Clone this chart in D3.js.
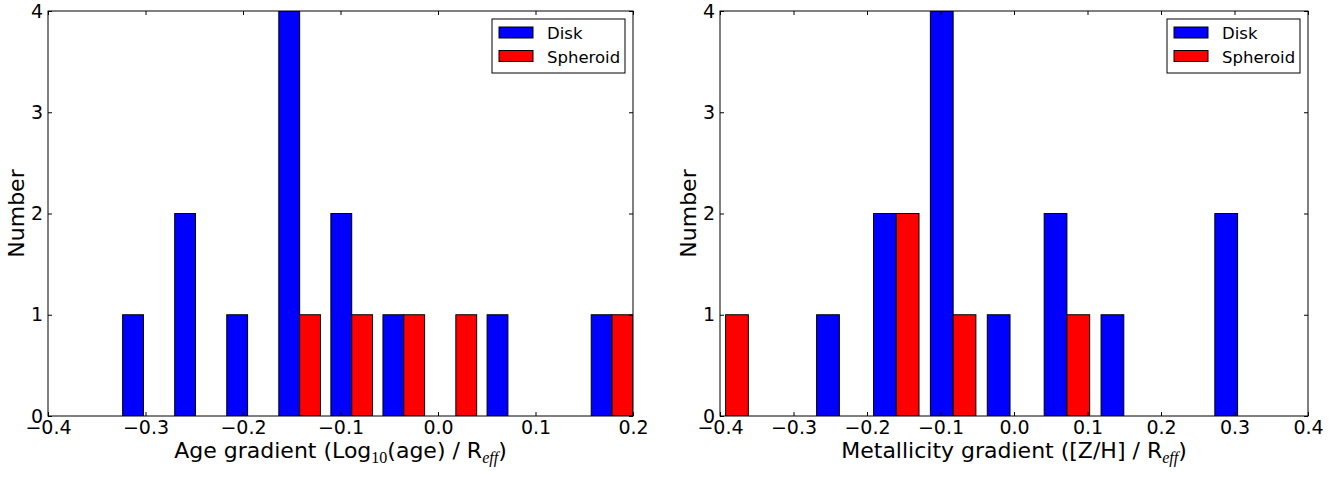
<!DOCTYPE html>
<html>
<head>
<meta charset="utf-8">
<script src="https://cdn.jsdelivr.net/npm/d3@7"></script>
<style>
  body { margin: 0; background: #fff; }
  text { font-family: 'DejaVu Sans', sans-serif; fill: #000; }
</style>
</head>
<body>
<div id="chart"></div>
<script>
// histogram bin edges (10 bins each) and counts per bin
const ageEdges = [-0.3288, -0.2754, -0.2220, -0.1686, -0.1152, -0.0618, -0.0084, 0.0450, 0.0984, 0.1518, 0.2052]
const ageDisk = [1, 2, 1, 4, 2, 1, 0, 1, 0, 1]
const ageSpheroid = [0, 0, 0, 1, 1, 1, 1, 0, 0, 1]

const metEdges = [-0.4311, -0.3537, -0.2763, -0.1989, -0.1215, -0.0441, 0.0333, 0.1107, 0.1881, 0.2655, 0.3429]
const metDisk = [0, 0, 1, 2, 4, 1, 2, 1, 0, 2]
const metSpheroid = [1, 0, 0, 2, 1, 0, 1, 0, 0, 0]

const ageTicks = [-0.4, -0.3, -0.2, -0.1, 0.0, 0.1, 0.2]
const metTicks = [-0.4, -0.3, -0.2, -0.1, 0.0, 0.1, 0.2, 0.3, 0.4]
const yTicks = [0, 1, 2, 3, 4]

const seriesNames = ['Disk', 'Spheroid']
const seriesColors = ['#0000ff', '#ff0000']

const width = 1341
const height = 477
const plotTop = 11
const plotBottom = 416

const svg = d3
  .select('#chart')
  .append('svg')
  .attr('width', width)
  .attr('height', height)

const panels = [
  {
    id: 'age',
    left: 48,
    right: 633,
    domain: [-0.4, 0.2],
    edges: ageEdges,
    series: [ageDisk, ageSpheroid],
    ticks: ageTicks,
    label: [['Age gradient (Log', 'n'], ['10', 'sub'], ['(age) / R', 'n'], ['eff', 'subi'], [')', 'n']]
  },
  {
    id: 'met',
    left: 720,
    right: 1308,
    domain: [-0.4, 0.4],
    edges: metEdges,
    series: [metDisk, metSpheroid],
    ticks: metTicks,
    label: [['Metallicity gradient ([Z/H] / R', 'n'], ['eff', 'subi'], [')', 'n']]
  }
]

panels.forEach(drawPanel)

function drawPanel(p) {
  const w = p.right - p.left
  const h = plotBottom - plotTop
  const g = svg.append('g').attr('transform', 'translate(' + p.left + ',' + plotTop + ')')

  const x = d3.scaleLinear().domain(p.domain).range([0, w])
  const y = d3.scaleLinear().domain([0, 4]).range([h, 0])

  g.append('clipPath')
    .attr('id', 'clip-' + p.id)
    .append('rect')
    .attr('width', w)
    .attr('height', h)

  // side by side bars: 80% of each bin, split between the two series
  const bars = []
  p.series.forEach((counts, s) => {
    counts.forEach((c, i) => {
      if (c === 0) return
      const lo = p.edges[i]
      const bw = p.edges[i + 1] - lo
      const x0 = lo + bw * 0.1 + s * bw * 0.4
      bars.push({ x0: x0, x1: x0 + bw * 0.4, count: c, s: s })
    })
  })

  g.append('g')
    .attr('clip-path', 'url(#clip-' + p.id + ')')
    .selectAll('rect')
    .data(bars)
    .enter()
    .append('rect')
    .attr('x', d => x(d.x0))
    .attr('width', d => x(d.x1) - x(d.x0))
    .attr('y', d => y(d.count))
    .attr('height', d => y(0) - y(d.count))
    .attr('fill', d => seriesColors[d.s])
    .attr('stroke', '#000')
    .attr('stroke-width', 1)

  const fmt = d3.format('.1f')

  const xAxis = d3.axisBottom(x).tickValues(p.ticks).tickSize(-4).tickPadding(5).tickFormat(fmt)
  const xTop = d3.axisTop(x).tickValues(p.ticks).tickSize(-4).tickFormat('')
  const yAxis = d3.axisLeft(y).tickValues(yTicks).tickSize(-4).tickPadding(5).tickFormat(d3.format('d'))
  const yRight = d3.axisRight(y).tickValues(yTicks).tickSize(-4).tickFormat('')

  g.append('g').attr('class', 'axis').attr('transform', 'translate(0,' + h + ')').call(xAxis)
  g.append('g').attr('class', 'axis').call(xTop)
  g.append('g').attr('class', 'axis').call(yAxis)
  g.append('g').attr('class', 'axis').attr('transform', 'translate(' + w + ',0)').call(yRight)

  g.selectAll('.axis .domain').remove()
  g.selectAll('.axis line').attr('stroke', '#000')
  g.selectAll('.axis text')
    .attr('font-size', 19)
    .attr('font-family', "'DejaVu Sans', sans-serif")
    .attr('fill', '#000')

  g.append('rect')
    .attr('width', w)
    .attr('height', h)
    .attr('fill', 'none')
    .attr('stroke', '#000')
    .attr('stroke-width', 1)

  // legend
  const lw = 133
  const legend = g.append('g').attr('transform', 'translate(' + (w - 8 - lw) + ',8)')
  legend.append('rect')
    .attr('width', lw)
    .attr('height', 54)
    .attr('fill', '#fff')
    .attr('stroke', '#000')
  seriesNames.forEach((name, i) => {
    legend.append('rect')
      .attr('x', 7)
      .attr('y', 8 + i * 23.5)
      .attr('width', 34)
      .attr('height', 11)
      .attr('fill', seriesColors[i])
      .attr('stroke', '#000')
    legend.append('text')
      .attr('x', 55)
      .attr('y', 20 + i * 23.5)
      .attr('font-size', 16.5)
      .text(name)
  })

  // axis titles
  g.append('text')
    .attr('transform', 'translate(-24,' + h / 2 + ') rotate(-90)')
    .attr('text-anchor', 'middle')
    .attr('font-size', 22)
    .text('Number')

  const xl = g.append('text')
    .attr('x', w / 2)
    .attr('y', 458 - plotTop)
    .attr('text-anchor', 'middle')
    .attr('font-size', 22)
  p.label.forEach(part => {
    const t = xl.append('tspan').text(part[0])
    if (part[1] === 'sub' || part[1] === 'subi') {
      t.attr('dy', 5)
        .attr('font-size', 16)
        .attr('font-family', "'Liberation Serif', serif")
      if (part[1] === 'subi') t.attr('font-style', 'italic')
    } else if (part !== p.label[0]) {
      t.attr('dy', -5)
    }
  })
}
</script>
</body>
</html>
